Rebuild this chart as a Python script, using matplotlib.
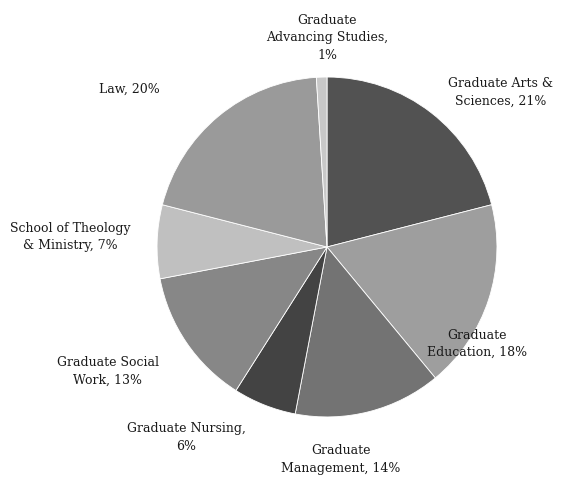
import matplotlib
matplotlib.use('Agg')
import matplotlib.pyplot as plt

labels = ['Graduate Arts &\nSciences', 'Graduate\nEducation', 'Graduate\nManagement',
          'Graduate Nursing,\n', 'Graduate Social\nWork', 'School of Theology\n& Ministry',
          'Law', 'Graduate\nAdvancing Studies,\n']
shares = [21, 18, 14, 6, 13, 7, 20, 1]
colors = ['#525252', '#9e9e9e', '#737373', '#434343', '#878787', '#c0c0c0', '#9a9a9a', '#c8c8c8']

# label centres, in pie radii from the centre
label_pos = [(1.02, 0.91), (0.88, -0.57), (0.08, -1.25), (-0.83, -1.12),
             (-1.29, -0.73), (-1.51, 0.06), (-1.165, 0.93), (0.0, 1.23)]

fig = plt.figure(figsize=(5.76, 4.78), dpi=100)
ax = fig.add_axes([0, 0, 1, 1])
ax.pie(shares, colors=colors, startangle=90, counterclock=False,
       wedgeprops=dict(edgecolor='white', linewidth=0.6))
ax.set_xlim(-1.924, 1.465)
ax.set_ylim(-1.359, 1.453)
ax.set_aspect('equal')
ax.axis('off')

for lab, s, (x, y) in zip(labels, shares, label_pos):
    if lab.endswith('\n'):
        txt = lab + '%d%%' % s
    else:
        txt = lab + ', %d%%' % s
    ax.text(x, y, txt, ha='center', va='center', fontsize=9,
            family='DejaVu Serif', linespacing=1.45, color='#1a1a1a')

plt.savefig('out.png', dpi=100)
